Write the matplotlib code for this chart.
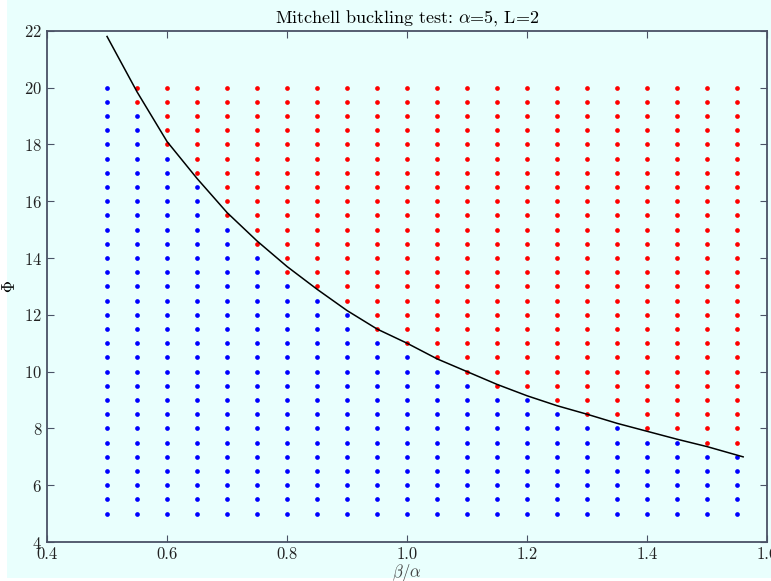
import numpy as np
import matplotlib
matplotlib.use("Agg")
import matplotlib.pyplot as plt
from matplotlib.patches import Rectangle

plt.rcParams["font.family"] = "cmr10"
plt.rcParams["mathtext.fontset"] = "cm"
plt.rcParams["axes.formatter.use_mathtext"] = True

# grid of test points
beta_ratio = [0.50, 0.55, 0.60, 0.65, 0.70, 0.75, 0.80, 0.85, 0.90, 0.95, 1.00,
              1.05, 1.10, 1.15, 1.20, 1.25, 1.30, 1.35, 1.40, 1.45, 1.50, 1.55]
phi_values = [5.0, 5.5, 6.0, 6.5, 7.0, 7.5, 8.0, 8.5, 9.0, 9.5, 10.0, 10.5,
              11.0, 11.5, 12.0, 12.5, 13.0, 13.5, 14.0, 14.5, 15.0, 15.5,
              16.0, 16.5, 17.0, 17.5, 18.0, 18.5, 19.0, 19.5, 20.0]
# lowest Phi that buckled (red) in each column
buckle_phi = [20.5, 19.5, 18.0, 17.0, 15.5, 14.5, 13.5, 13.0, 12.5, 11.5, 11.0,
              10.5, 10.0, 9.5, 9.5, 9.0, 8.5, 8.5, 8.0, 8.0, 7.5, 7.5]

# theoretical curve
curve_x = [0.50, 0.55, 0.60, 0.65, 0.70, 0.75, 0.80, 0.85, 0.90, 0.95, 1.00,
           1.05, 1.10, 1.15, 1.20, 1.25, 1.30, 1.35, 1.40, 1.45, 1.50, 1.56]
curve_y = [21.8, 19.85, 18.1, 16.8, 15.6, 14.6, 13.7, 12.9, 12.15, 11.5, 11.0,
           10.45, 10.0, 9.55, 9.15, 8.8, 8.5, 8.18, 7.9, 7.62, 7.36, 7.0]

bg = "#e9fffd"

fig = plt.figure(figsize=(7.71, 5.81), dpi=100, facecolor="white")
fig.patches.append(Rectangle((7 / 771, 3 / 581), 1, 1, transform=fig.transFigure,
                             facecolor=bg, edgecolor="none", zorder=-10))
ax = fig.add_axes([0.061, 0.067, 0.934, 0.880])
ax.set_facecolor(bg)

for bx, thr in zip(beta_ratio, buckle_phi):
    for p in phi_values:
        c = "red" if p >= thr else "blue"
        ax.plot(bx, p, "o", color=c, markersize=3.4, markeredgewidth=0)

ax.plot(curve_x, curve_y, color="black", linewidth=1.1)

ax.set_xlim(0.4, 1.6)
ax.set_ylim(4, 22)
ax.set_xticks(np.arange(0.4, 1.61, 0.2))
ax.set_yticks(np.arange(4, 23, 2))
ax.xaxis.set_major_formatter(matplotlib.ticker.FormatStrFormatter("%.1f"))
ax.tick_params(direction="in", top=True, right=True, length=5, width=0.8,
               labelsize=12, color="#4a5266", labelcolor="#222222")
for s in ax.spines.values():
    s.set_color("#4a5266")
    s.set_linewidth(1.3)

ax.set_xlabel(r"$\beta/\alpha$", fontsize=12, labelpad=0, color="#444444")
ax.set_ylabel(r"$\Phi$", fontsize=12, labelpad=4)
ax.set_title(r"Mitchell buckling test: $\alpha$=5, L=2", fontsize=13, pad=6)

fig.savefig("out.png", dpi=100, facecolor=fig.get_facecolor())
